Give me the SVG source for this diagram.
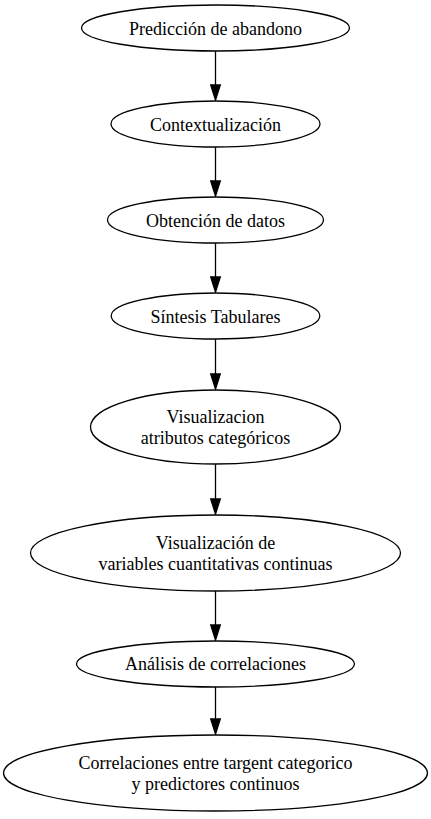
<svg xmlns="http://www.w3.org/2000/svg" width="431" height="819" viewBox="0 0 431 819">
<style>
.n ellipse{fill:#fff;stroke:#000;stroke-width:1.3}
.n text{font-family:"Liberation Serif","Times New Roman",serif;font-size:18px;fill:#000;text-anchor:middle}
.e path{stroke:#000;stroke-width:1.3;fill:#000}
</style>
<rect width="431" height="819" fill="#fff"/>
<g id="edges" class="e">
<path d="M215.5,51 V85 M210.7,85 L220.3,85 L215.5,100 Z"/>
<path d="M215.5,147 V181 M210.7,181 L220.3,181 L215.5,196 Z"/>
<path d="M215.5,243 V277 M210.7,277 L220.3,277 L215.5,292 Z"/>
<path d="M215.5,339 V374 M210.7,374 L220.3,374 L215.5,389 Z"/>
<path d="M215.5,464 V499 M210.7,499 L220.3,499 L215.5,514 Z"/>
<path d="M215.5,591 V625 M210.7,625 L220.3,625 L215.5,640 Z"/>
<path d="M215.5,687 V719 M210.7,719 L220.3,719 L215.5,734 Z"/>
</g>
<g id="n1" class="n"><ellipse cx="215.5" cy="28" rx="134" ry="23"/><text x="215.5" y="34.5">Predicción de abandono</text></g>
<g id="n2" class="n"><ellipse cx="215.5" cy="124" rx="104.5" ry="23"/><text x="215.5" y="130.5">Contextualización</text></g>
<g id="n3" class="n"><ellipse cx="215.5" cy="220" rx="108" ry="23"/><text x="215.5" y="226.5">Obtención de datos</text></g>
<g id="n4" class="n"><ellipse cx="215.5" cy="316" rx="104.3" ry="23"/><text x="215.5" y="322.5">Síntesis Tabulares</text></g>
<g id="n5" class="n"><ellipse cx="215.5" cy="427" rx="125" ry="37"/><text x="215.5" y="423">Visualizacion</text><text x="215.5" y="444">atributos categóricos</text></g>
<g id="n6" class="n"><ellipse cx="215.5" cy="553" rx="185" ry="38"/><text x="215.5" y="549">Visualización de</text><text x="215.5" y="570">variables cuantitativas continuas</text></g>
<g id="n7" class="n"><ellipse cx="215.5" cy="664" rx="139" ry="23"/><text x="215.5" y="670">Análisis de correlaciones</text></g>
<g id="n8" class="n"><ellipse cx="215.5" cy="773" rx="212" ry="38"/><text x="215.5" y="769">Correlaciones entre targent categorico</text><text x="215.5" y="790">y predictores continuos</text></g>
</svg>
